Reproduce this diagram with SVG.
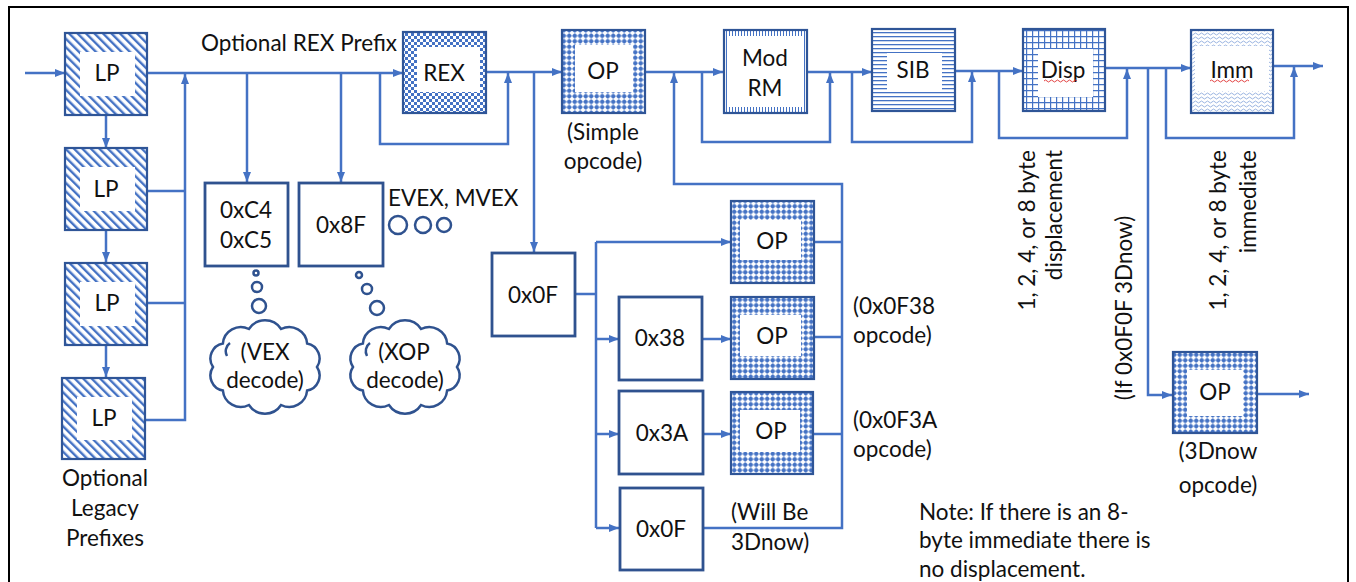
<svg xmlns="http://www.w3.org/2000/svg" width="1356" height="582" viewBox="0 0 1356 582">
<style>
.t{font-family:Lato,"Liberation Sans",sans-serif;font-size:22.5px;fill:#111;text-anchor:middle}
.l{text-anchor:start}
.bx{fill:none;stroke:#2F5597;stroke-width:2.2}
.pb{fill:#fff;stroke:#2F528F;stroke-width:2.8}
.c{fill:none;stroke:#4472C4;stroke-width:2.5}
.cl{fill:#fff;stroke:#2F528F;stroke-width:2.5}
.w{fill:#fff}
</style>
<defs>
<marker id="ah" markerUnits="userSpaceOnUse" markerWidth="10" markerHeight="10" viewBox="0 0 10 10" refX="10" refY="5" orient="auto"><path d="M0,1 L10,5 L0,9 z" fill="#4472C4"/></marker>
<pattern id="pLP" width="6" height="6" patternUnits="userSpaceOnUse" patternTransform="rotate(-45)"><rect width="2.4" height="6" fill="#4472C4"/></pattern>
<pattern id="pChk" width="6" height="6" patternUnits="userSpaceOnUse"><rect width="3" height="3" fill="#4472C4"/><rect x="3" y="3" width="3" height="3" fill="#4472C4"/></pattern>
<pattern id="pDot" width="5.5" height="5.5" patternUnits="userSpaceOnUse"><path d="M0,2.75H5.5M2.75,0V5.5" stroke="#4472C4" stroke-width="0.8"/><circle cx="2.75" cy="2.75" r="2.1" fill="#4472C4"/></pattern>
<pattern id="pVert" width="3" height="3" patternUnits="userSpaceOnUse"><rect width="1" height="3" fill="#4472C4"/></pattern>
<pattern id="pHor" width="4" height="4" patternUnits="userSpaceOnUse"><rect width="4" height="1.3" fill="#4472C4"/></pattern>
<pattern id="pGrid" width="6" height="6" patternUnits="userSpaceOnUse"><path d="M0,0.6H6M0.6,0V6" stroke="#4472C4" stroke-width="1.2"/></pattern>
<pattern id="pWave" width="6" height="4" patternUnits="userSpaceOnUse"><path d="M0,2 Q1.5,0 3,2 T6,2" fill="none" stroke="#8FAADC" stroke-width="0.9"/></pattern>
</defs>
<rect width="1356" height="582" fill="#fff"/>
<path d="M9,590 V7 H1348 V590" fill="none" stroke="#000" stroke-width="2"/>

<g id="connectors">
<path class="c" d="M25,73 H65" marker-end="url(#ah)"/>
<path class="c" d="M106,115 V148" marker-end="url(#ah)"/>
<path class="c" d="M106,230 V262" marker-end="url(#ah)"/>
<path class="c" d="M106,345 V377" marker-end="url(#ah)"/>
<path class="c" d="M147,73 H403" marker-end="url(#ah)"/>
<path class="c" d="M147,191 H185 M148,303 H185"/>
<path class="c" d="M145,420 H185 V74" marker-end="url(#ah)"/>
<path class="c" d="M247,73 V182" marker-end="url(#ah)"/>
<path class="c" d="M341,73 V182" marker-end="url(#ah)"/>
<path class="c" d="M380,73 V144 H508 V73" marker-end="url(#ah)"/>
<path class="c" d="M486,72 H562" marker-end="url(#ah)"/>
<path class="c" d="M534,72 V252" marker-end="url(#ah)"/>
<path class="c" d="M645,72 H723" marker-end="url(#ah)"/>
<path class="c" d="M703,528 H842 V184 H674 V73" marker-end="url(#ah)"/>
<path class="c" d="M814,242 H842 M814,337 H842 M814,434 H842"/>
<path class="c" d="M702,72 V142 H830 V73" marker-end="url(#ah)"/>
<path class="c" d="M807,72 H872" marker-end="url(#ah)"/>
<path class="c" d="M852,72 V142 H972 V72" marker-end="url(#ah)"/>
<path class="c" d="M955,71 H1023" marker-end="url(#ah)"/>
<path class="c" d="M999,71 V138 H1127 V69" marker-end="url(#ah)"/>
<path class="c" d="M1105,68 H1191" marker-end="url(#ah)"/>
<path class="c" d="M1148,68 V395 H1172" marker-end="url(#ah)"/>
<path class="c" d="M1166,68 V138 H1294 V67" marker-end="url(#ah)"/>
<path class="c" d="M1273,66 H1323" marker-end="url(#ah)"/>
<path class="c" d="M1257,394 H1309" marker-end="url(#ah)"/>
<path class="c" d="M575,294 H596 M596,242 V528"/>
<path class="c" d="M596,242 H731" marker-end="url(#ah)"/>
<path class="c" d="M596,339 H619" marker-end="url(#ah)"/>
<path class="c" d="M596,434 H619" marker-end="url(#ah)"/>
<path class="c" d="M596,528 H619" marker-end="url(#ah)"/>
<path class="c" d="M702,339 H731" marker-end="url(#ah)"/>
<path class="c" d="M703,434 H731" marker-end="url(#ah)"/>
</g>

<g id="lp1"><rect x="65" y="33" width="82" height="82" fill="url(#pLP)"/><rect class="w" x="80" y="52" width="55" height="44"/><rect class="bx" x="65" y="33" width="82" height="82"/><text class="t" x="107" y="81">LP</text></g>
<g id="lp2"><rect x="65" y="148" width="82" height="82" fill="url(#pLP)"/><rect class="w" x="80" y="167" width="55" height="44"/><rect class="bx" x="65" y="148" width="82" height="82"/><text class="t" x="106" y="197">LP</text></g>
<g id="lp3"><rect x="65" y="263" width="82" height="82" fill="url(#pLP)"/><rect class="w" x="80" y="282" width="55" height="44"/><rect class="bx" x="65" y="263" width="82" height="82"/><text class="t" x="107" y="311">LP</text></g>
<g id="lp4"><rect x="62" y="378" width="83" height="81" fill="url(#pLP)"/><rect class="w" x="77" y="397" width="55" height="43"/><rect class="bx" x="62" y="378" width="83" height="81"/><text class="t" x="104" y="426">LP</text></g>
<g id="legacy-label"><text class="t" x="105" y="486">Optional</text><text class="t" x="105" y="516">Legacy</text><text class="t" x="105" y="546">Prefixes</text></g>
<g id="rex-label"><text class="t l" x="201" y="51">Optional REX Prefix</text></g>

<g id="rex"><rect x="403" y="32" width="83" height="81" fill="url(#pChk)"/><rect class="w" x="417" y="47" width="63" height="45"/><rect class="bx" x="403" y="32" width="83" height="81"/><text class="t" x="444" y="81">REX</text></g>
<g id="op"><rect x="562" y="30" width="83" height="83" fill="url(#pDot)"/><rect class="w" x="575" y="45" width="58" height="47"/><rect class="bx" x="562" y="30" width="83" height="83"/><text class="t" x="603" y="79">OP</text><text class="t" x="603" y="140">(Simple</text><text class="t" x="603" y="169">opcode)</text></g>
<g id="modrm"><rect x="724" y="30" width="83" height="83" fill="url(#pVert)"/><rect class="w" x="729" y="36" width="73" height="71"/><rect class="bx" x="724" y="30" width="83" height="83"/><text class="t" x="765" y="66">Mod</text><text class="t" x="765" y="96">RM</text></g>
<g id="sib"><rect x="872" y="29" width="83" height="82" fill="url(#pHor)"/><rect class="w" x="887" y="53" width="55" height="39"/><rect class="bx" x="872" y="29" width="83" height="82"/><text class="t" x="913" y="78">SIB</text></g>
<g id="disp"><rect x="1023" y="29" width="82" height="82" fill="url(#pGrid)"/><rect class="w" x="1038" y="49" width="55" height="48"/><rect class="bx" x="1023" y="29" width="82" height="82"/><text class="t" x="1063" y="78">Disp</text><path d="M1044,81 q1.5,-2 3,0 t3,0 t3,0 t3,0 t3,0 t3,0 t3,0 t3,0 t3,0 t3,0 t3,0" fill="none" stroke="#E03030" stroke-width="0.9"/></g>
<g id="imm"><rect x="1191" y="30" width="82" height="83" fill="url(#pWave)"/><rect class="w" x="1195" y="46" width="74" height="45"/><rect class="bx" x="1191" y="30" width="82" height="83"/><text class="t" x="1232" y="78">Imm</text><path d="M1210,81 q1.5,-2 3,0 t3,0 t3,0 t3,0 t3,0 t3,0 t3,0 t3,0 t3,0 t3,0 t3,0 t3,0 t3,0" fill="none" stroke="#E03030" stroke-width="0.9"/></g>

<g id="vex"><rect class="pb" x="205" y="183" width="83" height="83"/><text class="t" x="246" y="218">0xC4</text><text class="t" x="246" y="248">0xC5</text></g>
<g id="xop"><rect class="pb" x="299" y="183" width="84" height="83"/><text class="t" x="341" y="233">0x8F</text></g>
<g id="evex"><text class="t l" x="388" y="206">EVEX, MVEX</text><circle class="cl" cx="398" cy="225" r="9"/><circle class="cl" cx="423" cy="225" r="8"/><circle class="cl" cx="444" cy="225" r="7"/></g>
<g id="vex-cloud"><circle class="cl" cx="256" cy="273" r="2.5"/><circle class="cl" cx="257" cy="287" r="5"/><circle class="cl" cx="259" cy="306" r="7"/>
<path id="cloud" class="cl" d="M317,367 A15.3,15.3 0 0 1 307.1,390.5 A17.9,17.9 0 0 1 281.1,405 A19.3,19.3 0 0 1 248.9,405 A17.9,17.9 0 0 1 222.9,390.5 A15.3,15.3 0 0 1 213,367 A15.3,15.3 0 0 1 222.9,343.5 A17.9,17.9 0 0 1 248.9,329 A19.3,19.3 0 0 1 281.1,329 A17.9,17.9 0 0 1 307.1,343.5 A15.3,15.3 0 0 1 317,367 Z M227,356 A10,10 0 0 1 230,343"/>
<text class="t" x="265" y="360">(VEX</text><text class="t" x="265" y="388">decode)</text></g>
<g id="xop-cloud"><circle class="cl" cx="359" cy="275" r="3"/><circle class="cl" cx="367" cy="289" r="5"/><circle class="cl" cx="377" cy="308" r="7"/>
<path class="cl" transform="translate(140,0)" d="M317,367 A15.3,15.3 0 0 1 307.1,390.5 A17.9,17.9 0 0 1 281.1,405 A19.3,19.3 0 0 1 248.9,405 A17.9,17.9 0 0 1 222.9,390.5 A15.3,15.3 0 0 1 213,367 A15.3,15.3 0 0 1 222.9,343.5 A17.9,17.9 0 0 1 248.9,329 A19.3,19.3 0 0 1 281.1,329 A17.9,17.9 0 0 1 307.1,343.5 A15.3,15.3 0 0 1 317,367 Z M227,356 A10,10 0 0 1 230,343"/>
<text class="t" x="404" y="360">(XOP</text><text class="t" x="405" y="388">decode)</text></g>

<g id="esc0f"><rect class="pb" x="492" y="253" width="83" height="83"/><text class="t" x="533" y="303">0x0F</text></g>
<g id="op0f"><rect x="731" y="201" width="83" height="82" fill="url(#pDot)"/><rect class="w" x="740" y="220" width="61" height="40"/><rect class="bx" x="731" y="201" width="83" height="82"/><text class="t" x="772" y="249">OP</text></g>
<g id="esc38"><rect class="pb" x="619" y="297" width="83" height="83"/><text class="t" x="660" y="346">0x38</text></g>
<g id="op38"><rect x="731" y="297" width="83" height="82" fill="url(#pDot)"/><rect class="w" x="740" y="315" width="61" height="41"/><rect class="bx" x="731" y="297" width="83" height="82"/><text class="t" x="772" y="344">OP</text></g>
<g id="esc3a"><rect class="pb" x="619" y="391" width="84" height="83"/><text class="t" x="662" y="441">0x3A</text></g>
<g id="op3a"><rect x="731" y="392" width="82" height="82" fill="url(#pDot)"/><rect class="w" x="740" y="410" width="60" height="42"/><rect class="bx" x="731" y="392" width="82" height="82"/><text class="t" x="771" y="439">OP</text></g>
<g id="esc0f2"><rect class="pb" x="620" y="488" width="83" height="82"/><text class="t" x="661" y="537">0x0F</text></g>
<g id="sub-labels"><text class="t l" x="731" y="520">(Will Be</text><text class="t l" x="731" y="550">3Dnow)</text>
<text class="t l" x="853" y="314">(0x0F38</text><text class="t l" x="853" y="343">opcode)</text>
<text class="t l" x="853" y="428">(0x0F3A</text><text class="t l" x="853" y="457">opcode)</text></g>

<g id="op3d"><rect x="1173" y="352" width="84" height="81" fill="url(#pDot)"/><rect class="w" x="1187" y="370" width="56" height="46"/><rect class="bx" x="1173" y="352" width="84" height="81"/><text class="t" x="1215" y="400">OP</text><text class="t" x="1218" y="459">(3Dnow</text><text class="t" x="1218" y="493">opcode)</text></g>

<g id="rot-labels">
<text class="t" style="text-anchor:end" transform="translate(1035,150) rotate(-90)">1, 2, 4, or 8 byte</text>
<text class="t" style="text-anchor:end" transform="translate(1062,150) rotate(-90)">displacement</text>
<text class="t" transform="translate(1132,308) rotate(-90)">(If 0x0F0F 3Dnow)</text>
<text class="t" style="text-anchor:end" transform="translate(1226,150) rotate(-90)">1, 2, 4, or 8 byte</text>
<text class="t" style="text-anchor:end" transform="translate(1256,150) rotate(-90)">immediate</text>
</g>
<g id="note"><text class="t l" x="919" y="520">Note: If there is an 8-</text><text class="t l" x="919" y="548">byte immediate there is</text><text class="t l" x="919" y="577">no displacement.</text></g>
</svg>
